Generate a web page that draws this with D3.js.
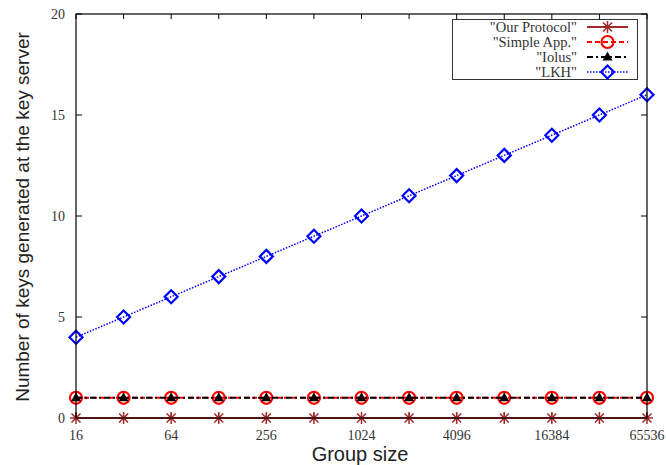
<!DOCTYPE html>
<html><head><meta charset="utf-8">
<script src="https://cdn.jsdelivr.net/npm/d3@7"></script>
<style>body{margin:0;background:#fff}svg{display:block}</style>
</head><body>
<svg id="c" width="666" height="465"></svg>
<script>
const groupSizes = [16,32,64,128,256,512,1024,2048,4096,8192,16384,32768,65536];
const ourProtocol = [0,0,0,0,0,0,0,0,0,0,0,0,0];
const simpleApp = [1,1,1,1,1,1,1,1,1,1,1,1,1];
const iolus = [1,1,1,1,1,1,1,1,1,1,1,1,1];
const lkh = [4,5,6,7,8,9,10,11,12,13,14,15,16];
const xTickLabels = [16,64,256,1024,4096,16384,65536];
const yTicks = [0,5,10,15,20];
const seriesNames = ['"Our Protocol"','"Simple App."','"Iolus"','"LKH"'];

const svg = d3.select("#c");
const L=76,R=647,T=14,B=418;
const x = d3.scaleLog().base(2).domain([16,65536]).range([L,R]);
const y = d3.scaleLinear().domain([0,20]).range([B,T]);
const serif = "'Liberation Serif','Times New Roman',serif";
const sans = "'Liberation Sans',Arial,sans-serif";

// ticks
const g = svg.append("g");
groupSizes.forEach(v=>{
  g.append("line").attr("x1",x(v)).attr("x2",x(v)).attr("y1",B).attr("y2",B-5).attr("stroke","#000");
  g.append("line").attr("x1",x(v)).attr("x2",x(v)).attr("y1",T).attr("y2",T+5).attr("stroke","#000");
});
xTickLabels.forEach(v=>{
  g.append("text").attr("x",x(v)).attr("y",440).attr("text-anchor","middle")
   .attr("font-family",serif).attr("font-size",14).attr("fill","#333").text(v);
});
yTicks.forEach(v=>{
  g.append("line").attr("x1",L).attr("x2",L+6).attr("y1",y(v)).attr("y2",y(v)).attr("stroke","#000");
  g.append("line").attr("x1",R).attr("x2",R-6).attr("y1",y(v)).attr("y2",y(v)).attr("stroke","#000");
  g.append("text").attr("x",65).attr("y",y(v)+5).attr("text-anchor","end")
   .attr("font-family",serif).attr("font-size",14).attr("fill","#333").text(v);
});

// axis titles
svg.append("text").attr("x",360).attr("y",461).attr("text-anchor","middle")
  .attr("font-family",sans).attr("font-size",20).attr("fill","#222").text("Group size");
svg.append("text").attr("transform","translate(29,217) rotate(-90)").attr("text-anchor","middle")
  .attr("font-family",sans).attr("font-size",19).attr("fill","#222").text("Number of keys generated at the key server");

const series = [
  {name:seriesNames[0], data:ourProtocol, color:"#9e2a2a", dash:null, marker:"star"},
  {name:seriesNames[1], data:simpleApp, color:"#ff0000", dash:"5,3", marker:"circle"},
  {name:seriesNames[2], data:iolus, color:"#000000", dash:"6,3,2,3", marker:"triangle"},
  {name:seriesNames[3], data:lkh, color:"#0000ff", dash:"1.5,1.5", marker:"diamond"}
];

function drawMarker(sel, type, cx, cy, color){
  if(type==="star"){
    const s=6;
    sel.append("path").attr("d",`M${cx-s},${cy}H${cx+s}M${cx},${cy-s}V${cy+s}M${cx-s*0.75},${cy-s*0.75}L${cx+s*0.75},${cy+s*0.75}M${cx-s*0.75},${cy+s*0.75}L${cx+s*0.75},${cy-s*0.75}`)
      .attr("stroke",color).attr("stroke-width",1.5).attr("fill","none");
  } else if(type==="circle"){
    sel.append("circle").attr("cx",cx).attr("cy",cy).attr("r",6).attr("stroke",color).attr("stroke-width",2.2).attr("fill","none");
  } else if(type==="triangle"){
    sel.append("path").attr("d",`M${cx},${cy-5.5}L${cx+5},${cy+3.5}L${cx-5},${cy+3.5}Z`).attr("fill",color);
  } else if(type==="diamond"){
    const s=6.5;
    sel.append("path").attr("d",`M${cx},${cy-s}L${cx+s},${cy}L${cx},${cy+s}L${cx-s},${cy}Z`).attr("stroke",color).attr("stroke-width",2.2).attr("fill","none");
  }
}

const line = d3.line().x(d=>x(d[0])).y(d=>y(d[1]));
series.forEach(s=>{
  const pts = groupSizes.map((v,i)=>[v,s.data[i]]);
  svg.append("path").attr("d",line(pts)).attr("fill","none").attr("stroke",s.color)
    .attr("stroke-width",s.marker==="diamond"?1.5:2).attr("stroke-dasharray",s.dash);
  const mg = svg.append("g");
  pts.forEach(p=>drawMarker(mg,s.marker,x(p[0]),y(p[1]),s.color));
});

// frame
svg.append("rect").attr("x",L).attr("y",T).attr("width",R-L).attr("height",B-T)
  .attr("fill","none").attr("stroke","#000").attr("stroke-width",1.2);
svg.append("line").attr("x1",L).attr("x2",R).attr("y1",B).attr("y2",B).attr("stroke","#5a1515").attr("stroke-width",1.5);

// legend
const lg = svg.append("g");
lg.append("rect").attr("x",452.5).attr("y",19.5).attr("width",185).attr("height",60).attr("fill","#fff").attr("stroke","#333").attr("stroke-width",1);
series.forEach((s,i)=>{
  const yy = 27+i*15;
  lg.append("text").attr("x",577).attr("y",yy+5).attr("text-anchor","end")
    .attr("font-family",serif).attr("font-size",14.5).attr("fill","#333").text(s.name);
  lg.append("line").attr("x1",587).attr("x2",628).attr("y1",yy).attr("y2",yy)
    .attr("stroke",s.color).attr("stroke-width",s.marker==="diamond"?1.5:2).attr("stroke-dasharray",s.dash);
  drawMarker(lg,s.marker,607.5,yy,s.color);
});
</script>
</body></html>
